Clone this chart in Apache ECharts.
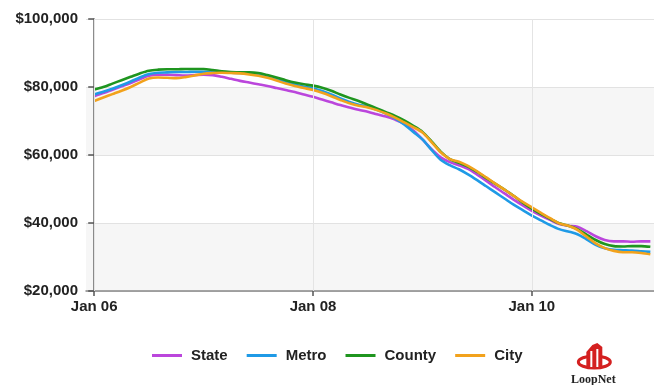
<!DOCTYPE html>
<html>
<head>
<meta charset="utf-8">
<script src="https://cdn.jsdelivr.net/npm/echarts@6/dist/echarts.min.js"></script>
<style>
  html, body { margin: 0; padding: 0; background: #fff; }
  #chart { width: 654px; height: 385px; }
</style>
</head>
<body>
<div id="chart"></div>
<script>
// Monthly median values, Jan 2006 – Feb 2011
const months = [
  'Jan 06','Feb 06','Mar 06','Apr 06','May 06','Jun 06','Jul 06','Aug 06','Sep 06','Oct 06','Nov 06','Dec 06',
  'Jan 07','Feb 07','Mar 07','Apr 07','May 07','Jun 07','Jul 07','Aug 07','Sep 07','Oct 07','Nov 07','Dec 07',
  'Jan 08','Feb 08','Mar 08','Apr 08','May 08','Jun 08','Jul 08','Aug 08','Sep 08','Oct 08','Nov 08','Dec 08',
  'Jan 09','Feb 09','Mar 09','Apr 09','May 09','Jun 09','Jul 09','Aug 09','Sep 09','Oct 09','Nov 09','Dec 09',
  'Jan 10','Feb 10','Mar 10','Apr 10','May 10','Jun 10','Jul 10','Aug 10','Sep 10','Oct 10','Nov 10','Dec 10',
  'Jan 11','Feb 11'
];

const stateValues = [
  77300, 78200, 79200, 80200, 81200, 82300, 83300, 83600, 83600, 83500, 83400, 83500,
  83600, 83500, 83000, 82400, 81800, 81300, 80800, 80300, 79700, 79100, 78500, 77800,
  77100, 76300, 75500, 74700, 74000, 73300, 72700, 72000, 71300, 70400, 69200, 67200,
  64600, 61700, 59300, 57900, 57000, 55900, 54200, 52400, 50500, 48700, 46900, 45200,
  43600, 42200, 40900, 39700, 39200, 38900, 37600, 36100, 35000, 34600, 34600, 34500,
  34600, 34600
];

const metroValues = [
  77800, 78600, 79500, 80500, 81600, 82800, 83800, 84200, 84300, 84400, 84400, 84500,
  84500, 84500, 84400, 84200, 84100, 84000, 83800, 83200, 82400, 81500, 80700, 80100,
  79600, 78800, 77800, 76600, 75600, 74800, 74200, 73300, 72200, 70800, 69000, 66800,
  64600, 61500, 58600, 57000, 55800, 54300, 52600, 50800, 49000, 47200, 45400, 43800,
  42200, 40800, 39400, 38200, 37500, 36700, 35200, 33600, 32600, 32100, 32000, 31900,
  31700, 31500
];

const countyValues = [
  79300, 80000, 81000, 82000, 83000, 84000, 84800, 85100, 85200, 85200, 85300, 85300,
  85300, 85000, 84600, 84400, 84300, 84300, 84100, 83500, 82800, 82000, 81300, 80800,
  80400, 79800, 78900, 77800, 76800, 75900, 74800, 73700, 72600, 71500, 70200, 68600,
  66800, 64000, 61000, 58800, 57700, 56600, 55000, 53200, 51500, 49800, 48000, 46000,
  44200, 42700, 41200, 39900, 39200, 38200, 36600, 35000, 33800, 33200, 33100, 33200,
  33200, 33000
];

const cityValues = [
  75900, 76900, 77900, 78900, 80000, 81300, 82500, 82800, 82700, 82600, 82900, 83400,
  83900, 84100, 84200, 84100, 84000, 83700, 83300, 82700, 81900, 81000, 80300, 79700,
  79100, 78300, 77300, 76200, 75200, 74500, 74000, 73200, 72200, 71000, 69600, 68200,
  66600, 63800, 60800, 58800, 58000, 56800, 55200, 53400, 51600, 49800, 48000, 46200,
  44600, 43000, 41400, 39900, 39200, 38000, 36000, 34000, 32600, 31800, 31400, 31400,
  31200, 30800
];

// Months (by index) that carry an x-axis label and a vertical grid line
const tickMonths = [0, 24, 48];

const seriesDefs = [
  { name: 'State',  values: stateValues,  color: '#bb46dc' },
  { name: 'Metro',  values: metroValues,  color: '#1f9ae6' },
  { name: 'County', values: countyValues, color: '#1f951f' },
  { name: 'City',   values: cityValues,   color: '#f2a21c' }
];

const chart = echarts.init(document.getElementById('chart'), null, { renderer: 'canvas' });

const labelFont = { fontFamily: 'Liberation Sans, Arial, sans-serif', fontWeight: 'bold', fontSize: 15, color: '#222' };

const series = seriesDefs.map(s => ({
  name: s.name,
  type: 'line',
  smooth: 0.3,
  showSymbol: false,
  symbol: 'none',
  data: s.values.map((v, i) => [i, v]),
  lineStyle: { color: s.color, width: 2.6 },
  itemStyle: { color: s.color },
  z: 3
}));

// vertical grid lines at the labelled months
series.unshift({
  name: 'vgrid',
  type: 'line',
  data: [],
  silent: true,
  z: 1,
  markLine: {
    silent: true,
    symbol: 'none',
    label: { show: false },
    lineStyle: { color: '#e4e4e4', width: 1, type: 'solid' },
    emphasis: { disabled: true },
    data: tickMonths.map(m => ({ xAxis: m }))
  }
});

chart.setOption({
  animation: false,
  backgroundColor: '#fff',
  grid: { left: 86, right: 0, top: 19, bottom: 94, containLabel: false },
  xAxis: {
    type: 'value',
    min: -0.9,
    max: 61.4,
    axisLine: { show: true, lineStyle: { color: '#888', width: 1.5 } },
    axisTick: { show: true, length: 5, inside: false, customValues: tickMonths, lineStyle: { color: '#555', width: 1.5 } },
    axisLabel: {
      ...labelFont,
      margin: 8,
      customValues: tickMonths,
      formatter: v => months[Math.round(v)] || ''
    },
    splitLine: { show: false }
  },
  yAxis: {
    type: 'value',
    min: 20000,
    max: 100000,
    interval: 20000,
    axisLine: { show: true, lineStyle: { color: '#666', width: 1.5 } },
    axisTick: { show: true, length: 6, inside: false, lineStyle: { color: '#555', width: 1.5 } },
    axisLabel: {
      ...labelFont,
      margin: 8,
      formatter: v => '$' + v.toLocaleString('en-US')
    },
    splitLine: { show: true, lineStyle: { color: '#e2e2e2', width: 1 } },
    splitArea: { show: true, areaStyle: { color: ['#f6f6f6', '#ffffff'] } }
  },
  legend: {
    data: seriesDefs.map(s => s.name),
    left: 147,
    top: 343,
    icon: 'rect',
    itemWidth: 30,
    itemHeight: 3,
    itemGap: 19,
    textStyle: { ...labelFont, padding: [0, 0, 0, 4] }
  },
  graphic: [
    {
      type: 'group',
      left: 571,
      top: 343,
      children: [
        { type: 'ellipse', shape: { cx: 23, cy: 19, rx: 16, ry: 6 }, style: { fill: 'none', stroke: '#d42020', lineWidth: 3 } },
        { type: 'polygon', shape: { points: [[15, 24], [15, 9], [21, 2], [26, 0], [31, 4], [31, 24]] }, style: { fill: '#d42020' } },
        { type: 'rect', shape: { x: 19, y: 8, width: 2, height: 16 }, style: { fill: '#fff' } },
        { type: 'rect', shape: { x: 25, y: 6, width: 2, height: 18 }, style: { fill: '#fff' } },
        { type: 'text', x: 22, y: 37, style: { text: 'LoopNet', fill: '#222', font: 'bold 12px "Liberation Serif", "DejaVu Serif", serif', textAlign: 'center', textVerticalAlign: 'middle' } }
      ]
    }
  ],
  series: series
});
</script>
</body>
</html>
